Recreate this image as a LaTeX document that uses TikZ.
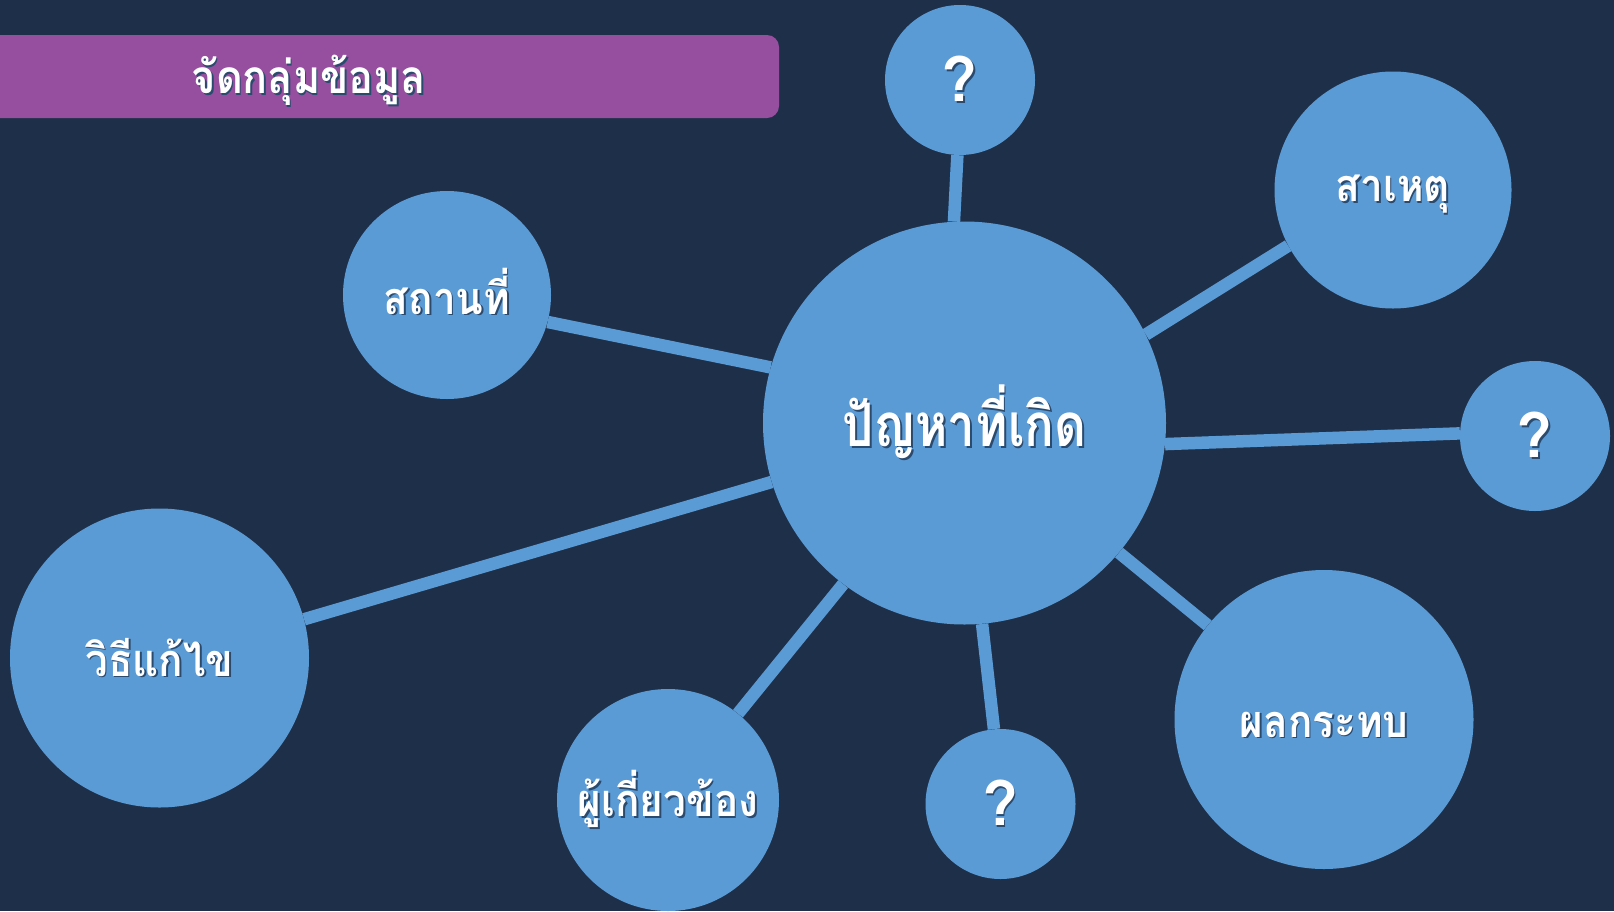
\documentclass[tikz,border=0pt]{standalone}
\usepackage{fontspec}
\usetikzlibrary{backgrounds}
\newfontfamily\thaifont[Script=Thai,FakeStretch=0.9]{Loma}
\newfontfamily\thaicentral[Script=Thai,FakeStretch=0.82]{Loma}
\newfontfamily\thaiq[Script=Thai]{Loma}
\definecolor{bgc}{HTML}{1E3049}
\definecolor{bluec}{HTML}{5B9BD5}
\definecolor{purplec}{HTML}{954F9E}
\definecolor{shadowc}{HTML}{2A4A6E}
\newcommand\shd[1]{\leavevmode\rlap{\kern1.6pt\raisebox{-1.6pt}{\color{shadowc}#1}}#1}
\newcommand\lowr[2]{\raisebox{-#1}[\height][\depth]{#2}}
\tikzset{
  bubble/.style={circle, fill=bluec, inner sep=0pt, text=white, font=\thaifont\bfseries\fontsize{45}{50}\selectfont},
  qbubble/.style={bubble, minimum size=150pt, font=\thaiq\bfseries\fontsize{62}{70}\selectfont},
  link/.style={draw=bluec, line width=12.5pt},
}
\begin{document}
\begin{tikzpicture}[x=1pt,y=-1pt]
\useasboundingbox (0,0) rectangle (1614,911);
\begin{scope}
\clip (0,0) rectangle (1614,911);
\fill[purplec, rounded corners=12pt] (-30,35) rectangle (779,118);
\end{scope}
\node[text=white, font=\thaifont\bfseries\fontsize{46}{50}\selectfont] (title) at (309,81) {\shd{จัดกลุ่มข้อมูล}};

\node[bubble, minimum size=403pt, font=\thaicentral\bfseries\fontsize{60}{66}\selectfont] (c) at (964.5,423) {\shd{ปัญหาที่เกิด}};
\node[qbubble] (q1) at (960,80) {\shd{?}};
\node[bubble, minimum size=237pt] (cause) at (1393,190) {\lowr{5pt}{\shd{สาเหตุ}}};
\node[qbubble] (q2) at (1535,436) {\shd{?}};
\node[bubble, minimum size=299pt] (impact) at (1324,719.5) {\lowr{6pt}{\shd{ผลกระทบ}}};
\node[qbubble] (q3) at (1000.5,804) {\shd{?}};
\node[bubble, minimum size=222pt] (stake) at (668,800) {\shd{ผู้เกี่ยวข้อง}};
\node[bubble, minimum size=299pt] (sol) at (159.5,658) {\shd{วิธีแก้ไข}};
\node[bubble, minimum size=208pt] (place) at (447,295) {\lowr{-3pt}{\shd{สถานที่}}};

\begin{scope}[on background layer]
\fill[bgc] (0,0) rectangle (1614,911);
\draw[link] (c.93) -- (q1.-92);
\draw[link] (c.26) -- (cause.208);
\draw[link] (c.-6) -- (q2.178);
\draw[link] (c.-40) -- (impact.141);
\draw[link] (c.-85) -- (q3.95);
\draw[link] (c.-127) -- (stake.51);
\draw[link] (c.197) -- (sol.15);
\draw[link] (c.164) -- (place.-15);
\end{scope}
\end{tikzpicture}
\end{document}
